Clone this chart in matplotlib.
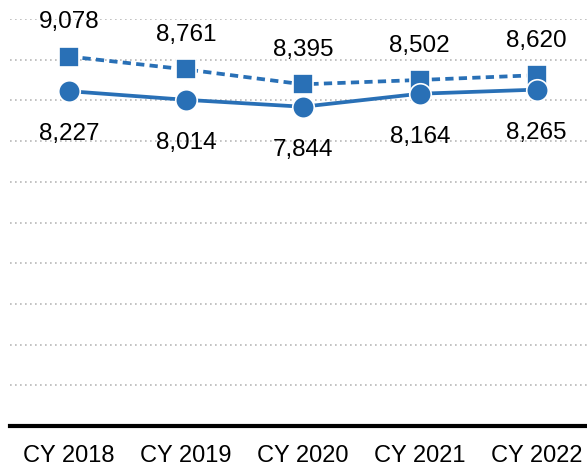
import matplotlib
matplotlib.use('Agg')
import matplotlib.pyplot as plt

years = ['CY 2018', 'CY 2019', 'CY 2020', 'CY 2021', 'CY 2022']
upper_values = [9078, 8761, 8395, 8502, 8620]
lower_values = [8227, 8014, 7844, 8164, 8265]

BLUE = '#2970b6'

plt.rcParams['font.family'] = ['Liberation Sans', 'DejaVu Sans']

fig = plt.figure(figsize=(5.87, 4.71), dpi=100)
ax = fig.add_axes([10 / 587, 45 / 471, 1 - 10 / 587, (426 - 19) / 471])

x = list(range(len(years)))

ax.plot(x, upper_values, color=BLUE, lw=2.7, linestyle=(0, (2.2, 1.4)),
        marker='s', markersize=14, markeredgecolor='white', markeredgewidth=1.2, zorder=3)
ax.plot(x, lower_values, color=BLUE, lw=2.7, linestyle='-',
        marker='o', markersize=15.5, markeredgecolor='white', markeredgewidth=1.2, zorder=4)

for xi, v in zip(x, upper_values):
    ax.annotate(f'{v:,}', (xi, v), xytext=(0, 24.5), textcoords='offset points',
                ha='center', va='center', fontsize=17.5, color='black')
for xi, v in zip(x, lower_values):
    ax.annotate(f'{v:,}', (xi, v), xytext=(0, -31), textcoords='offset points',
                ha='center', va='center', fontsize=17.5, color='black')

ax.set_ylim(0, 10000)
ax.set_xlim(-0.505, 4.43)
ax.set_yticks(range(0, 10001, 1000))
ax.yaxis.grid(True, linestyle=(0, (1, 2)), color='#b8b8b8', lw=1.2)
ax.set_axisbelow(True)
ax.tick_params(axis='y', left=False, labelleft=False)

ax.set_xticks(x)
ax.set_xticklabels(years, fontsize=17)
ax.tick_params(axis='x', length=0, pad=14)

for side in ['top', 'right', 'left']:
    ax.spines[side].set_visible(False)
ax.spines['bottom'].set_linewidth(3)
ax.spines['bottom'].set_color('black')

fig.savefig('out.png', dpi=100)
